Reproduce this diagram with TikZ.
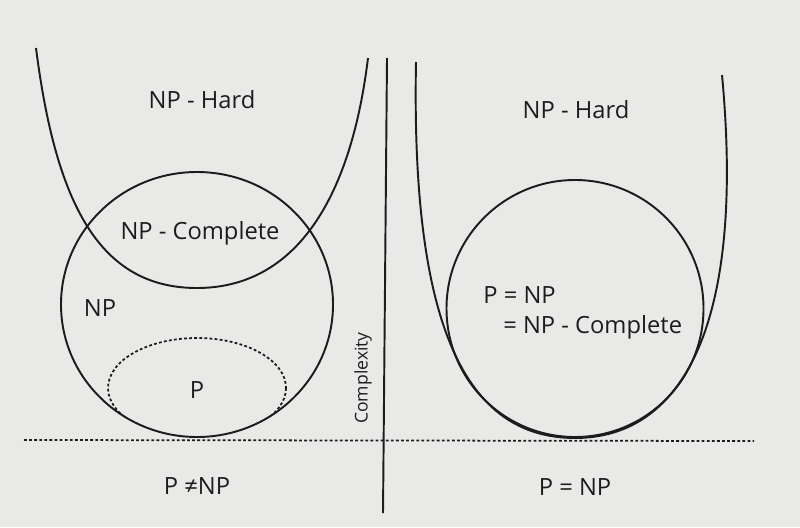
\documentclass[tikz,border=0pt]{standalone}
\usepackage{fontspec}
\setmainfont{Open Sans}
\usetikzlibrary{calc}
\definecolor{paper}{RGB}{233,234,232}
\definecolor{ink}{RGB}{28,28,28}

\begin{document}
\begin{tikzpicture}[x=0.02cm,y=-0.02cm,
    curve/.style={line width=1.1pt,color=ink},
    dots/.style={line width=1pt,color=ink,dash pattern=on 1.6pt off 1.3pt},
    lbl/.style={font=\fontsize{13.5}{16}\selectfont,text=ink,inner sep=0pt},
    small/.style={font=\fontsize{10}{12}\selectfont,text=ink,inner sep=0pt}]
  \fill[paper] (0,0) rectangle (800,527);
  \useasboundingbox (0,0) rectangle (800,527);
  % left half: P != NP
  \draw[curve] (36,48) .. controls (56,205) and (100,288) .. (197,288)
                       .. controls (292,288) and (350,205) .. (368,58);
  \draw[curve] (197,304.5) ellipse [x radius=136, y radius=132.5];
  \begin{scope}
    \clip (197,304.5) ellipse [x radius=136, y radius=132.5];
    \draw[dots] (197,388) ellipse [x radius=89, y radius=50];
  \end{scope}
  \node[lbl] (hardL) at (202,100) {NP - Hard};
  \node[lbl] (compL) at (200,233) {NP - Complete};
  \node[lbl] (np) at (100,308) {NP};
  \node[lbl] (p) at (197,390) {P};
  \node[lbl] (neq) at (197,486) {P ≠NP};
  % axis and base line
  \coordinate (axtop) at (387,58);
  \coordinate (axbot) at (383,513);
  \draw[curve] (axtop) -- (axbot);
  \node[small,rotate=90] (cx) at (363,378) {Complexity};
  \coordinate (basew) at (24,440);
  \coordinate (basee) at (754,441);
  \draw[dots] (basew) -- (basee);
  % right half: P = NP
  \draw[curve] (416,62) .. controls (411,325) and (465,438) .. (575,438)
                        .. controls (685,438) and (745,320) .. (722,75);
  \draw[curve] (575,308.5) circle [radius=128.5];
  \node[lbl] (hardR) at (576,110) {NP - Hard};
  \node[lbl,anchor=west] (eq1) at (483,295) {P = NP};
  \node[lbl,anchor=west] (eq2) at (503,327) {= NP - Complete};
  \node[lbl] (eq) at (575,487) {P = NP};
\end{tikzpicture}
\end{document}
